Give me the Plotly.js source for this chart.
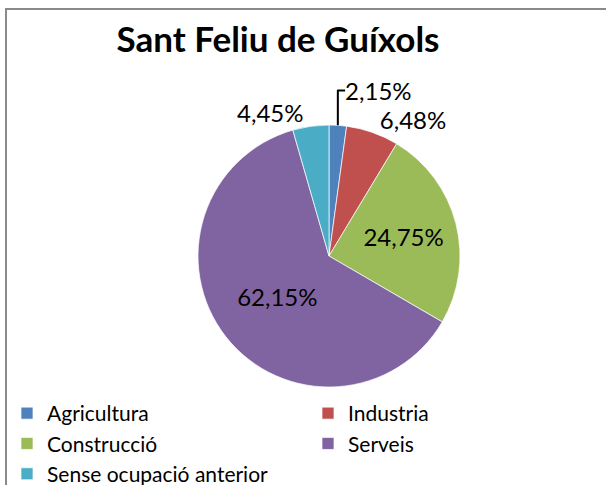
<!DOCTYPE html>
<html>
<head>
<meta charset="utf-8">
<script src="https://cdn.plot.ly/plotly-3.0.1.min.js"></script>
<style>
  html, body { margin: 0; padding: 0; background: #fff; }
  #wrap { position: relative; width: 606px; height: 485px; overflow: hidden; }
  #chart { width: 606px; height: 485px; }
  #frame { position: absolute; left: 5px; top: 8px; width: 700px; height: 700px;
           border: 2px solid #8a8a8a; pointer-events: none; box-sizing: border-box; }
</style>
</head>
<body>
<div id="wrap">
  <div id="chart"></div>
  <div id="frame"></div>
</div>
<script>
const titleText = "Sant Feliu de Guíxols";
const categories = ["Agricultura", "Industria", "Construcció", "Serveis", "Sense ocupació anterior"];
const values = [2.15, 6.48, 24.75, 62.15, 4.45];
const colors = ["#4F81BD", "#C0504D", "#9BBB59", "#8064A2", "#4BACC6"];
const labelPositions = ["outside", "outside", "inside", "inside", "outside"];

const FONT = "Lato, 'Open Sans', sans-serif";

const trace = {
  type: "pie",
  labels: categories,
  values: values,
  sort: false,
  direction: "clockwise",
  rotation: 0,
  marker: { colors: colors, line: { color: "rgba(255,255,255,0.7)", width: 1 } },
  texttemplate: "%{value:.2f}%",
  textposition: labelPositions,
  insidetextorientation: "horizontal",
  textfont: { family: FONT, size: 24, color: "#000" },
  outsidetextfont: { family: FONT, size: 24, color: "#000" },
  insidetextfont: { family: FONT, size: 24, color: "#000" },
  hoverinfo: "label+value",
  domain: { x: [198/606, 460/606], y: [(485-387)/485, (485-125)/485] }
};

const layout = {
  width: 606, height: 485,
  margin: { l: 0, r: 0, t: 0, b: 0, autoexpand: false },
  paper_bgcolor: "#fff",
  separators: ",.",
  font: { family: FONT, color: "#000" },
  title: {
    text: "<b>" + titleText + "</b>",
    font: { family: FONT, size: 35, color: "#000" },
    x: 278/606, xanchor: "center", xref: "paper",
    y: 1 - 40/485, yanchor: "middle", yref: "container"
  },
  showlegend: true,
  legend: {
    orientation: "h",
    x: 7/606, xanchor: "left", xref: "container",
    y: 1 - 393/485, yanchor: "top", yref: "container",
    entrywidth: 256, entrywidthmode: "pixels",
    font: { family: FONT, size: 21, color: "#000" },
    traceorder: "normal",
    itemclick: false
  }
};

Plotly.newPlot("chart", [trace], layout, { displayModeBar: false, staticPlot: true });
</script>
</body>
</html>
